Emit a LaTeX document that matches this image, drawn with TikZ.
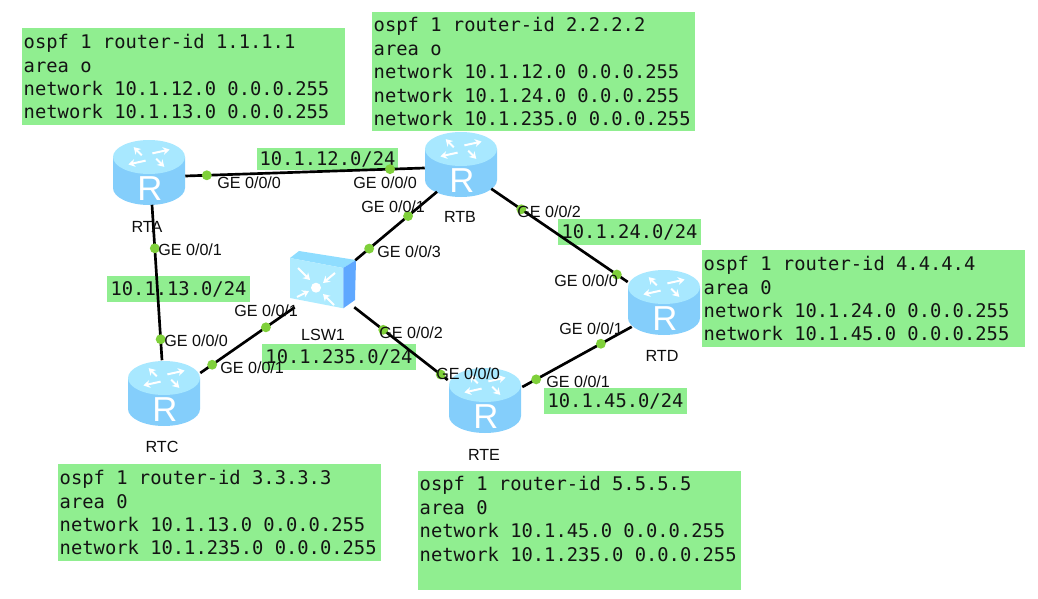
\documentclass[tikz,border=0pt]{standalone}
\usepackage{fontspec}
\setsansfont{Liberation Sans}
\setmonofont{DejaVu Sans Mono}
\usetikzlibrary{arrows.meta}

\definecolor{confgreen}{HTML}{90EE90}
\definecolor{dotgreen}{HTML}{7FD03A}
\definecolor{routertop}{HTML}{A8E8FF}
\definecolor{routerside}{HTML}{84CEFB}
\definecolor{routermid}{HTML}{A8E4FF}
\definecolor{switchtop}{HTML}{8FDDFF}
\definecolor{switchface}{HTML}{AEEBFF}
\definecolor{switchside}{HTML}{5FA8FF}

\tikzset{
  confbox/.style={fill=confgreen, anchor=north west, text width=240pt, inner xsep=1.1pt,
    inner ysep=0pt, align=flush left, text=black!92, font=\ttfamily\fontsize{14.1}{17.6}\selectfont},
  netbox/.style={fill=confgreen, inner sep=0pt, text=black!92,
    font=\ttfamily\fontsize{14.1}{17.6}\selectfont},
  routerbox/.style={minimum width=54pt, minimum height=48.75pt, inner sep=0pt},
  switchbox/.style={minimum width=49.5pt, minimum height=42pt, inner sep=0pt},
  link/.style={line width=2pt, black},
  portdot/.style={circle, fill=dotgreen, minimum size=7.4pt, inner sep=0pt},
  portlabel/.style={anchor=west, inner sep=0pt, text=black!95, font=\sffamily\fontsize{12.1}{14}\selectfont},
  devlabel/.style={inner sep=0pt, text=black!95, font=\sffamily\fontsize{12.1}{14}\selectfont},
  whitearrow/.style={white, line width=1.5pt, -{Stealth[length=5pt,width=6pt]}},
  pics/routericon/.style={code={
    \path[left color=routerside, middle color=routermid, right color=routerside]
      (-36,-15) -- (-36,16) arc[start angle=180, end angle=0, x radius=36, y radius=17] -- (36,-15) -- cycle;
    \fill[routertop] (0,-15) ellipse[x radius=36, y radius=17];
    \foreach \ang in {25,115,205,295}
      \draw[whitearrow] (\ang:8 and 4) ++(0,-15) -- ++(\ang+40:19 and 9);
    \node[text=white, inner sep=0pt, font=\sffamily\fontsize{26}{26}\selectfont] (-letter) at (1,17) {R};
  }},
  pics/switchicon/.style={code={
    \fill[switchtop] (-33,-22) -- (-24,-29) -- (33,-20) -- (20.3,-12) -- cycle;
    \fill[switchface] (-33,-22) -- (20.3,-12) -- (20.3,28.3) -- (-33,18) -- cycle;
    \fill[switchside] (20.3,-12) -- (33,-20) -- (32,20) -- (20.3,28.3) -- cycle;
    \fill[white] (-7,7.7) circle[radius=5];
    \draw[whitearrow] (-25,-12) -- (-13,0);
    \draw[whitearrow] (12,-7) -- (0,3);
    \draw[whitearrow] (-26,17) -- (-14,11);
    \draw[whitearrow] (11,25) -- (0,14);
  }},
}

\begin{document}
\begin{tikzpicture}[x=.75pt, y=-.75pt]
  \useasboundingbox (0,0) rectangle (1038,599);

  % config boxes
  \node[confbox, minimum height=72.75pt] (confa) at (22,28)
    {ospf 1 router-id 1.1.1.1\\area o\\network 10.1.12.0 0.0.0.255\\network 10.1.13.0 0.0.0.255};
  \node[confbox, minimum height=89.25pt] (confb) at (372,12)
    {ospf 1 router-id 2.2.2.2\\area o\\network 10.1.12.0 0.0.0.255\\network 10.1.24.0 0.0.0.255\\network 10.1.235.0 0.0.0.255};
  \node[confbox, minimum height=72.75pt] (confc) at (58,464)
    {ospf 1 router-id 3.3.3.3\\area 0\\network 10.1.13.0 0.0.0.255\\network 10.1.235.0 0.0.0.255};
  \node[confbox, minimum height=72.75pt] (confd) at (702,250)
    {ospf 1 router-id 4.4.4.4\\area 0\\network 10.1.24.0 0.0.0.255\\network 10.1.45.0 0.0.0.255};
  \node[confbox, minimum height=89.25pt] (confe) at (418,471)
    {ospf 1 router-id 5.5.5.5\\area 0\\network 10.1.45.0 0.0.0.255\\network 10.1.235.0 0.0.0.255\\~};

  % subnets
  \node[netbox, minimum width=105.75pt, minimum height=16.5pt] (netab) at (327.5,159) {10.1.12.0/24};
  \node[netbox, minimum width=107.25pt, minimum height=19.5pt] (netac) at (178.5,289) {10.1.13.0/24};
  \node[netbox, minimum width=115.5pt, minimum height=19.5pt] (netsw) at (339,357) {10.1.235.0/24};
  \node[netbox, minimum width=107.25pt, minimum height=19.5pt] (netbd) at (629.5,232) {10.1.24.0/24};
  \node[netbox, minimum width=107.25pt, minimum height=19.5pt] (netde) at (615.5,401) {10.1.45.0/24};

  % devices
  \node[routerbox] (rta) at (149,172) {};
  \node[routerbox] (rtb) at (461,164) {};
  \node[routerbox] (rtc) at (164,393) {};
  \node[routerbox] (rtd) at (664,302) {};
  \node[routerbox] (rte) at (485,400) {};
  \node[switchbox] (lsw) at (323,280) {};
  \pic (icona) at (rta) {routericon};
  \pic (iconb) at (rtb) {routericon};
  \pic (iconc) at (rtc) {routericon};
  \pic (icond) at (rtd) {routericon};
  \pic (icone) at (rte) {routericon};
  \pic (iconsw) at (lsw) {switchicon};

  % links
  \draw[link] ([shift={(0,4)}]rta.east) -- node[portdot, pos=.09] (dota1) {} node[portdot, pos=.855] (dotb1) {} ([shift={(0,4)}]rtb.west);
  \draw[link] ([shift={(3,0)}]rta.south) -- node[portdot, pos=.28] (dota2) {} node[portdot, pos=.865] (dotc1) {} ([shift={(-2,0)}]rtc.north);
  \draw[link] ([shift={(-24,-5)}]rtb.south) -- node[portdot, pos=.354] (dotb2) {} node[portdot, pos=.83] (dotsw1) {} ([shift={(-1,-48)}]lsw.south east);
  \draw[link] ([shift={(5,-1)}]lsw.south west) -- node[portdot, pos=.305] (dotsw2) {} node[portdot, pos=.874] (dotc2) {} ([shift={(0,-20)}]rtc.east);
  \draw[link] ([shift={(-2,-1)}]lsw.south east) -- node[portdot, pos=.31] (dotsw3) {} node[portdot, pos=.925] (dote1) {} ([shift={(-1,-20)}]rte.west);
  \draw[link] ([shift={(-6,-8)}]rtb.south east) -- node[portdot, pos=.22] (dotb3) {} node[portdot, pos=.92] (dotd1) {} ([shift={(0,-20)}]rtd.west);
  \draw[link] ([shift={(1,-13)}]rte.east) -- node[portdot, pos=.127] (dote2) {} node[portdot, pos=.718] (dotd2) {} ([shift={(4,-8)}]rtd.south west);

  % port labels
  \node[portlabel] (porta0) at (217,183) {GE 0/0/0};
  \node[portlabel] (porta1) at (158,250) {GE 0/0/1};
  \node[portlabel] (portb0) at (353,183) {GE 0/0/0};
  \node[portlabel] (portb1) at (361,207) {GE 0/0/1};
  \node[portlabel] (portb2) at (517,212) {GE 0/0/2};
  \node[portlabel] (portc0) at (164,341) {GE 0/0/0};
  \node[portlabel] (portc1) at (220,368) {GE 0/0/1};
  \node[portlabel] (portd0) at (554,281) {GE 0/0/0};
  \node[portlabel] (portd1) at (559,329) {GE 0/0/1};
  \node[portlabel] (porte0) at (436,374) {GE 0/0/0};
  \node[portlabel] (porte1) at (546,382) {GE 0/0/1};
  \node[portlabel] (portsw1) at (234,311) {GE 0/0/1};
  \node[portlabel] (portsw2) at (379,333) {GE 0/0/2};
  \node[portlabel] (portsw3) at (377,252) {GE 0/0/3};

  % device names
  \node[devlabel] (namea) at (147,227) {RTA};
  \node[devlabel] (nameb) at (460,217) {RTB};
  \node[devlabel] (namec) at (162,447) {RTC};
  \node[devlabel] (named) at (662,356) {RTD};
  \node[devlabel] (namee) at (484,455) {RTE};
  \node[devlabel] (namesw) at (323,335) {LSW1};
\end{tikzpicture}
\end{document}
